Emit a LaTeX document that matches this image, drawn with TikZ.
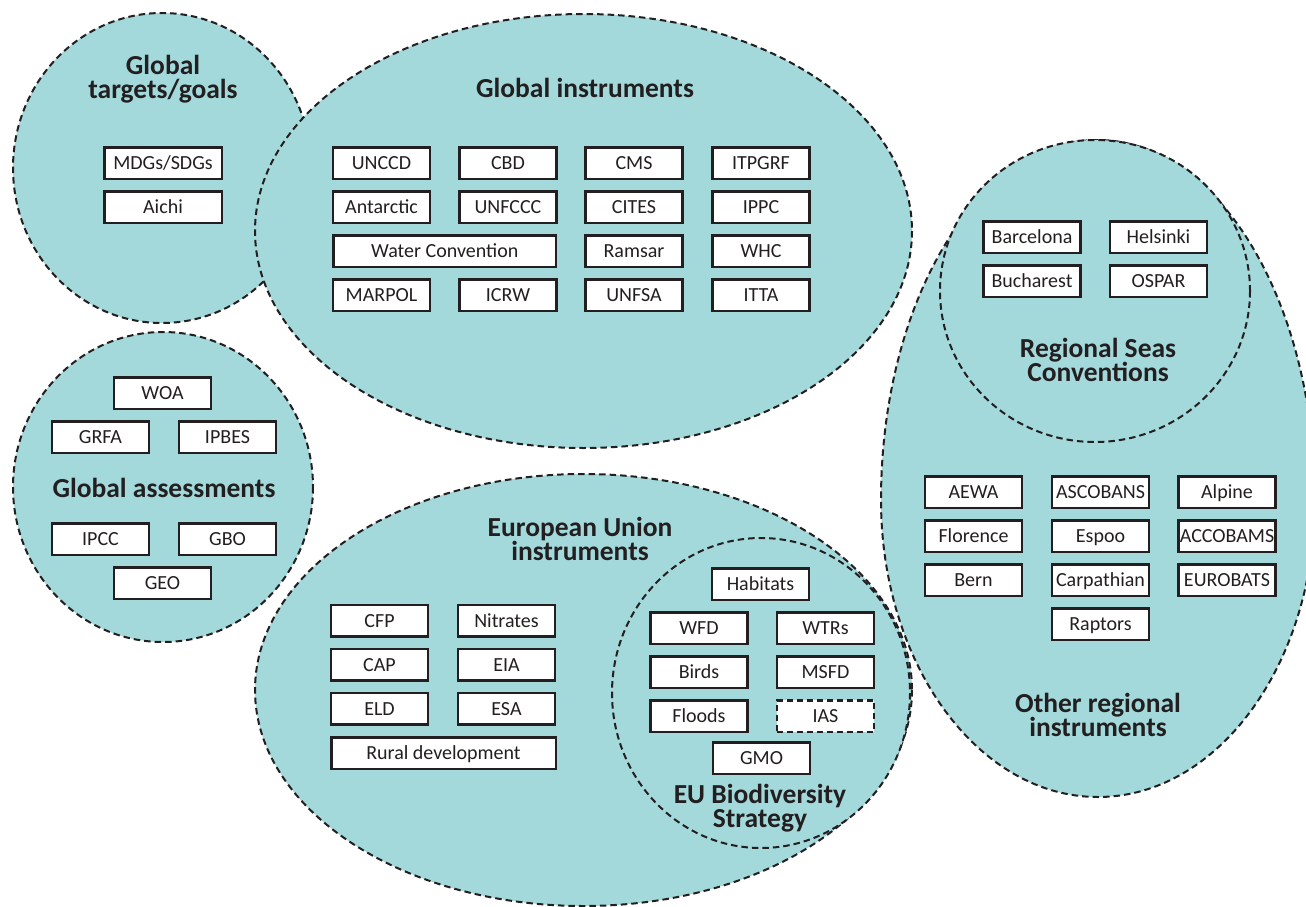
\documentclass[tikz,border=0pt]{standalone}
\usepackage{fontspec}
\setmainfont{Carlito}
\definecolor{regfill}{HTML}{A3D9DB}
\definecolor{ink}{HTML}{231F20}
\tikzset{
  region/.style={fill=regfill, draw=ink, line width=2pt, dash pattern=on 6.5pt off 4pt},
  item/.style={draw=ink, fill=white, line width=2.5pt, minimum width=97pt, minimum height=31.5pt,
    inner sep=0pt, text height=14pt, text depth=1pt, font=\fontsize{20}{24}\selectfont, text=ink},
  dashitem/.style={item, dash pattern=on 6pt off 4pt},
  title/.style={font=\bfseries\fontsize{27.5}{24}\selectfont, align=center, text=ink, inner sep=0pt},
}
\begin{document}
\begin{tikzpicture}[x=1pt,y=-1pt]
\useasboundingbox (0,0) rectangle (1306,907);
% regions
\path[region] (162,168) ellipse [x radius=149, y radius=155];
\path[region] (583.5,231) ellipse [x radius=328.5, y radius=217];
\path[region] (163,487) ellipse [x radius=150, y radius=155];
\path[region] (583.5,690) ellipse [x radius=328.5, y radius=216];
\path[region] (761,693) ellipse [x radius=149, y radius=155];
\path[region] (1098,140) .. controls (978.1,140) and (881,301.2) .. (881,500)
  .. controls (881,664) and (978.1,797) .. (1098,797)
  .. controls (1217.9,797) and (1315,664) .. (1315,500)
  .. controls (1315,301.2) and (1217.9,140) .. (1098,140) -- cycle;
\path[region] (1095,291) ellipse [x radius=155, y radius=151];

% Global targets/goals
\node[title] (tgt) at (163,79) {Global\\targets/goals};
\node[item, minimum width=117.5pt] (mdg) at (163,163) {MDGs/SDGs};
\node[item, minimum width=117.5pt] (aic) at (163,207) {Aichi};

% Global instruments
\node[title] (gin) at (585,88) {Global instruments};
\node[item] (unccd) at (381.5,163) {UNCCD};
\node[item] (cbd) at (508,163) {CBD};
\node[item] (cms) at (634,163) {CMS};
\node[item] (itp) at (761,163) {ITPGRF};
\node[item] (ant) at (381.5,207) {Antarctic};
\node[item] (unf) at (508,207) {UNFCCC};
\node[item] (cit) at (634,207) {CITES};
\node[item] (ipp) at (761,207) {IPPC};
\node[item, minimum width=222.5pt] (wat) at (444.75,251) {Water Convention};
\node[item] (ram) at (634,251) {Ramsar};
\node[item] (whc) at (761,251) {WHC};
\node[item] (mar) at (381.5,295) {MARPOL};
\node[item] (icr) at (508,295) {ICRW};
\node[item] (unfsa) at (634,295) {UNFSA};
\node[item] (itt) at (761,295) {ITTA};

% Global assessments
\node[item] (woa) at (162.5,393) {WOA};
\node[item] (grf) at (100.5,437) {GRFA};
\node[item] (ipb) at (227.5,437) {IPBES};
\node[title] (gas) at (164,488) {Global assessments};
\node[item] (ipc) at (100.5,539) {IPCC};
\node[item] (gbo) at (227.5,539) {GBO};
\node[item] (geo) at (162.5,583) {GEO};

% European Union instruments
\node[title] (eui) at (580,539) {European Union\\instruments};
\node[item] (cfp) at (379.5,620.5) {CFP};
\node[item] (nit) at (506.5,620.5) {Nitrates};
\node[item] (cap) at (379.5,664.5) {CAP};
\node[item] (eia) at (506.5,664.5) {EIA};
\node[item] (eld) at (379.5,708.5) {ELD};
\node[item] (esa) at (506.5,708.5) {ESA};
\node[item, minimum width=224.5pt] (rur) at (443.5,753) {Rural development};

% EU Biodiversity Strategy
\node[item] (hab) at (760.5,584) {Habitats};
\node[item] (wfd) at (699,628) {WFD};
\node[item] (wtr) at (825.5,628) {WTRs};
\node[item] (bir) at (699,672) {Birds};
\node[item] (msf) at (825.5,672) {MSFD};
\node[item] (flo) at (699,716) {Floods};
\node[dashitem] (ias) at (825.5,716) {IAS};
\node[item] (gmo) at (761.5,758) {GMO};
\node[title] (eub) at (760,808) {EU Biodiversity\\Strategy};

% Regional Seas Conventions
\node[item] (bar) at (1032,237) {Barcelona};
\node[item] (hel) at (1158.5,237) {Helsinki};
\node[item] (buc) at (1032,281) {Bucharest};
\node[item] (osp) at (1158.5,281) {OSPAR};
\node[title] (rsc) at (1098,360) {Regional Seas\\Conventions};

% Other regional instruments
\node[item] (aew) at (973.5,492) {AEWA};
\node[item] (asc) at (1100.5,492) {ASCOBANS};
\node[item] (alp) at (1227,492) {Alpine};
\node[item] (flr) at (973.5,536) {Florence};
\node[item] (esp) at (1100.5,536) {Espoo};
\node[item] (acc) at (1227,536) {ACCOBAMS};
\node[item] (ber) at (973.5,580) {Bern};
\node[item] (car) at (1100.5,580) {Carpathian};
\node[item] (eur) at (1227,580) {EUROBATS};
\node[item] (rap) at (1100.5,624) {Raptors};
\node[title] (ori) at (1098,715) {Other regional\\instruments};
\end{tikzpicture}
\end{document}
